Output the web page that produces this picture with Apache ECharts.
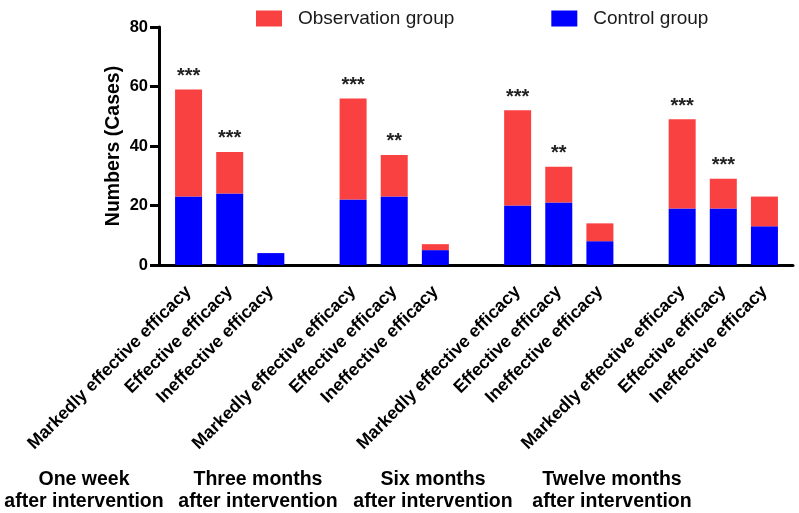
<!DOCTYPE html>
<html>
<head>
<meta charset="utf-8">
<script src="https://cdn.jsdelivr.net/npm/echarts@6/dist/echarts.min.js"></script>
<style>
html,body{margin:0;padding:0;background:#fff;}
#chart{width:799px;height:513px;}
</style>
</head>
<body>
<div id="chart"></div>
<script>
// ---- data ----
const efficacyLabels = ['Markedly effective efficacy', 'Effective efficacy', 'Ineffective efficacy'];
const timeGroups = ['One week\nafter intervention', 'Three months\nafter intervention', 'Six months\nafter intervention', 'Twelve months\nafter intervention'];
const controlValues = [[23, 24, 4], [22, 23, 5], [20, 21, 8], [19, 19, 13]];
const observationValues = [[36, 14, 0], [34, 14, 2], [32, 12, 6], [30, 10, 10]];
const significance = [['***', '***', ''], ['***', '**', ''], ['***', '**', ''], ['***', '***', '']];
const yMin = 0, yMax = 80, yStep = 20;
const seriesNames = ['Observation group', 'Control group'];

// ---- layout (not data) ----
const groupLabelX = [84, 258, 433, 612];
const FONT = '"Liberation Sans", Arial, sans-serif';

const categories = [], ctrl = [], obs = [], sig = [];
timeGroups.forEach((g, gi) => {
  efficacyLabels.forEach((e, ei) => {
    categories.push(e);
    ctrl.push(controlValues[gi][ei]);
    obs.push(observationValues[gi][ei]);
    sig.push(significance[gi][ei]);
  });
  if (gi < timeGroups.length - 1) {
    categories.push('');
    ctrl.push(null); obs.push(null); sig.push('');
  }
});

const chart = echarts.init(document.getElementById('chart'), null, {renderer: 'canvas'});
chart.setOption({
  animation: false,
  backgroundColor: '#fff',
  textStyle: {fontFamily: FONT},
  legend: {
    left: 256, top: 9, padding: 0,
    itemWidth: 26, itemHeight: 16, itemGap: 97,
    icon: 'rect',
    data: seriesNames,
    textStyle: {fontSize: 19, color: '#1a1a1a', fontFamily: FONT, padding: [0, 0, 0, 11]}
  },
  grid: [
    {left: 168, right: 14, top: 27, bottom: 248},
    {left: 158, right: 6, top: 27, bottom: 248}
  ],
  xAxis: [{
    type: 'category', gridIndex: 0, data: categories,
    axisLine: {lineStyle: {color: '#000', width: 3}},
    axisTick: {alignWithLabel: true, interval: 0, length: 10, lineStyle: {color: '#000', width: 3}},
    axisLabel: {interval: 0, rotate: 45, margin: 24, fontSize: 17.6, fontWeight: 'bold', color: '#000', fontFamily: FONT}
  }, {
    type: 'value', gridIndex: 1, min: 0, max: 1,
    axisLine: {show: true, lineStyle: {color: '#000', width: 3}},
    axisTick: {show: false}, axisLabel: {show: false}, splitLine: {show: false}
  }],
  yAxis: [{
    type: 'value', gridIndex: 0, min: yMin, max: yMax, interval: yStep,
    offset: 9,
    name: 'Numbers (Cases)', nameLocation: 'middle', nameGap: 35, nameMoveOverlap: false,
    nameTextStyle: {fontSize: 19.5, fontWeight: 'bold', color: '#000', fontFamily: FONT},
    axisLine: {show: true, lineStyle: {color: '#000', width: 3}},
    axisTick: {show: true, length: 9, lineStyle: {color: '#000', width: 3}},
    axisLabel: {margin: 11, fontSize: 16.5, fontWeight: 'bold', color: '#000', fontFamily: FONT},
    splitLine: {show: false}
  }, {
    type: 'value', gridIndex: 1, show: false
  }],
  series: [{
    name: seriesNames[1], type: 'bar', stack: 'total', barWidth: 27,
    itemStyle: {color: '#0000FF'},
    data: ctrl
  }, {
    name: seriesNames[0], type: 'bar', stack: 'total', barWidth: 27,
    itemStyle: {color: '#FA4141'},
    label: {
      show: true, position: 'top', distance: 3,
      fontSize: 20, fontWeight: 'bold', color: '#222', fontFamily: FONT,
      formatter: p => sig[p.dataIndex]
    },
    data: obs
  }],
  graphic: timeGroups.map((g, i) => ({
    type: 'text',
    x: groupLabelX[i], y: 469,
    style: {text: g, textAlign: 'center', textVerticalAlign: 'top', font: 'bold 19.5px ' + FONT, fill: '#000', lineHeight: 22}
  }))
});
</script>
</body>
</html>
